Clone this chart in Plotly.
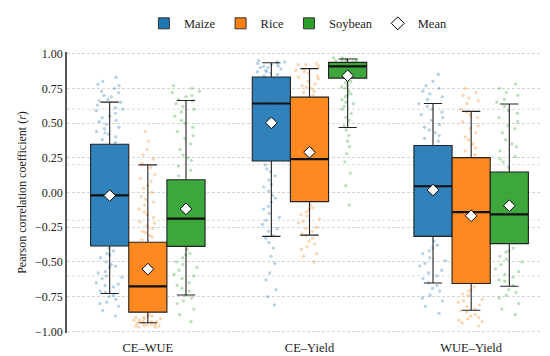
import plotly.graph_objects as go

# ---------------- data ----------------
groups = ["CE–WUE", "CE–Yield", "WUE–Yield"]
crops = ["Maize", "Rice", "Soybean"]
colors = ["#1f77b4", "#ff7f0e", "#2ca02c"]

# box statistics per crop, ordered as groups
maize_q1 = [-0.385, 0.227, -0.316]
maize_med = [-0.020, 0.641, 0.045]
maize_q3 = [0.348, 0.832, 0.338]
maize_lo = [-0.728, -0.316, -0.652]
maize_hi = [0.651, 0.935, 0.641]
maize_mean = [-0.022, 0.502, 0.018]

rice_q1 = [-0.862, -0.066, -0.655]
rice_med = [-0.676, 0.240, -0.141]
rice_q3 = [-0.358, 0.687, 0.251]
rice_lo = [-0.938, -0.307, -0.848]
rice_hi = [0.199, 0.892, 0.584]
rice_mean = [-0.552, 0.290, -0.168]

soy_q1 = [-0.388, 0.824, -0.368]
soy_med = [-0.188, 0.908, -0.158]
soy_q3 = [0.092, 0.937, 0.148]
soy_lo = [-0.738, 0.468, -0.675]
soy_hi = [0.663, 0.962, 0.637]
soy_mean = [-0.118, 0.841, -0.095]

# jittered site-level correlations
maize_pts = [
    [0.83, 0.80, 0.77, 0.75, 0.73, 0.70, 0.69, 0.67, 0.65, 0.63, 0.61, 0.59, 0.57, 0.55, 0.54, 0.51,
     0.49, 0.47, 0.46, 0.43, 0.42, 0.40, 0.38, 0.36, 0.30, 0.22, 0.15, 0.08, 0.02, -0.05, -0.12,
     -0.20, -0.27, -0.33, -0.40, -0.42, -0.45, -0.47, -0.50, -0.52, -0.54, -0.57, -0.58, -0.61,
     -0.62, -0.65, -0.66, -0.68, -0.71, -0.72, -0.75, -0.77, -0.80, -0.82, -0.85, -0.89,
     0.78, 0.72, 0.66, 0.60, 0.52, 0.44, -0.44, -0.53, -0.60, -0.67, -0.74, -0.79],
    [0.95, 0.94, 0.94, 0.93, 0.92, 0.91, 0.91, 0.90, 0.89, 0.88, 0.87, 0.86, 0.85, 0.84, 0.80, 0.75,
     0.70, 0.65, 0.58, 0.50, 0.42, 0.33, 0.27, 0.20, 0.17, 0.12, 0.09, 0.04, 0.01, -0.04, -0.07,
     -0.12, -0.15, -0.20, -0.23, -0.28, -0.31, -0.36, -0.40, -0.46, -0.51, -0.58, -0.63, -0.70,
     -0.75, -0.81, 0.93, 0.90, 0.87, 0.15, 0.06, -0.02, -0.10, -0.18, -0.26, -0.33],
    [0.85, 0.80, 0.77, 0.73, 0.71, 0.67, 0.64, 0.62, 0.58, 0.56, 0.52, 0.49, 0.47, 0.43, 0.41, 0.37,
     0.28, 0.20, 0.12, 0.05, -0.03, -0.11, -0.19, -0.26, -0.35, -0.38, -0.42, -0.44, -0.47, -0.51,
     -0.53, -0.56, -0.60, -0.62, -0.65, -0.69, -0.71, -0.74, -0.78, -0.82, -0.87,
     0.75, 0.69, 0.60, 0.54, 0.45, 0.39, -0.40, -0.49, -0.58, -0.67, -0.76],
]
rice_pts = [
    [0.44, 0.37, 0.31, 0.27, 0.21, 0.18, 0.13, 0.10, 0.05, 0.03, 0.00, -0.03, -0.07, -0.09, -0.12,
     -0.16, -0.18, -0.21, -0.24, -0.26, -0.28, -0.31, -0.32, -0.34, -0.40, -0.46, -0.52, -0.58,
     -0.63, -0.70, -0.75, -0.80, -0.84, -0.88, -0.89, -0.90, -0.90, -0.91, -0.92, -0.92, -0.93,
     -0.93, -0.94, -0.94, -0.95, -0.95, -0.96, -0.96, -0.97, -0.97,
     0.24, 0.08, -0.05, -0.14, -0.22, -0.29, -0.89, -0.91, -0.93, -0.95, -0.96],
    [0.93, 0.92, 0.91, 0.89, 0.88, 0.86, 0.84, 0.83, 0.80, 0.78, 0.76, 0.75, 0.72, 0.70, 0.62, 0.52,
     0.42, 0.33, 0.24, 0.15, 0.06, -0.03, -0.09, -0.12, -0.14, -0.17, -0.19, -0.22, -0.25, -0.26,
     -0.30, -0.31, -0.35, -0.37, -0.41, -0.44, -0.46, -0.50,
     0.92, 0.87, 0.82, 0.77, 0.73, -0.11, -0.16, -0.21, -0.28, -0.33, -0.39],
    [0.75, 0.72, 0.70, 0.66, 0.64, 0.60, 0.58, 0.54, 0.51, 0.46, 0.43, 0.38, 0.35, 0.30, 0.27, 0.18,
     0.08, -0.02, -0.12, -0.22, -0.33, -0.44, -0.55, -0.63, -0.68, -0.70, -0.73, -0.74, -0.77,
     -0.78, -0.81, -0.82, -0.84, -0.86, -0.88, -0.90, -0.91, -0.93, -0.94, -0.96,
     0.68, 0.56, 0.48, 0.40, 0.32, -0.71, -0.79, -0.85, -0.89, -0.92],
]
soy_pts = [
    [0.77, 0.75, 0.72, 0.70, 0.69, 0.66, 0.64, 0.60, 0.58, 0.55, 0.50, 0.47, 0.44, 0.39, 0.35, 0.31,
     0.27, 0.23, 0.19, 0.16, 0.12, 0.05, -0.02, -0.08, -0.14, -0.22, -0.28, -0.34, -0.41, -0.44,
     -0.47, -0.50, -0.54, -0.56, -0.59, -0.62, -0.65, -0.69, -0.71, -0.74, -0.78, -0.80, -0.84,
     -0.88, -0.93, 0.73, 0.67, 0.62, 0.52, 0.41, 0.25, -0.45, -0.52, -0.60, -0.67, -0.76],
    [0.97, 0.97, 0.96, 0.96, 0.95, 0.95, 0.94, 0.93, 0.92, 0.91, 0.90, 0.88, 0.86, 0.84, 0.81, 0.79,
     0.77, 0.76, 0.73, 0.71, 0.69, 0.67, 0.65, 0.62, 0.60, 0.57, 0.54, 0.52, 0.48, 0.45, 0.41,
     0.37, 0.33, 0.28, 0.22, 0.14, 0.05, -0.09, 0.96, 0.95, 0.94, 0.80, 0.75, 0.70, 0.64],
    [0.78, 0.75, 0.70, 0.67, 0.62, 0.59, 0.54, 0.51, 0.46, 0.43, 0.38, 0.35, 0.30, 0.26, 0.22, 0.18,
     0.10, 0.02, -0.06, -0.14, -0.22, -0.30, -0.40, -0.43, -0.46, -0.50, -0.52, -0.55, -0.59,
     -0.61, -0.64, -0.67, -0.70, -0.74, -0.76, -0.80, -0.84, -0.88,
     0.72, 0.65, 0.57, 0.48, 0.33, 0.24, -0.42, -0.48, -0.57, -0.63, -0.72],
]

y_ticks = [-1.0, -0.75, -0.5, -0.25, 0.0, 0.25, 0.5, 0.75, 1.0]
ref_lines = [-0.6, -0.2, 0.2, 0.6]

# ---------------- figure ----------------
BOX_W = 0.236
offsets = [-BOX_W, 0.0, BOX_W]
series = [
    (maize_q1, maize_med, maize_q3, maize_lo, maize_hi, maize_mean, maize_pts),
    (rice_q1, rice_med, rice_q3, rice_lo, rice_hi, rice_mean, rice_pts),
    (soy_q1, soy_med, soy_q3, soy_lo, soy_hi, soy_mean, soy_pts),
]


def rgba(hex_c, a):
    h = hex_c.lstrip("#")
    return "rgba(%d,%d,%d,%s)" % (int(h[0:2], 16), int(h[2:4], 16), int(h[4:6], 16), a)


fig = go.Figure()

# jittered points (drawn first, underneath)
for ci, s in enumerate(series):
    pts = s[6]
    for gi in range(len(groups)):
        xpos = gi + offsets[ci]
        fig.add_trace(go.Box(
            x=[xpos] * len(pts[gi]), y=pts[gi], width=BOX_W,
            boxpoints="all", jitter=0.75, pointpos=0,
            line=dict(width=0), fillcolor="rgba(0,0,0,0)",
            marker=dict(color=colors[ci], size=3.3, opacity=0.33),
            showlegend=False, hoverinfo="skip",
        ))

# boxes
for ci, s in enumerate(series):
    q1, med, q3, lo, hi, mean, _ = s
    xs = [gi + offsets[ci] for gi in range(len(groups))]
    fig.add_trace(go.Box(
        x=xs, q1=q1, median=med, q3=q3, lowerfence=lo, upperfence=hi,
        width=BOX_W, whiskerwidth=0.48, boxpoints=False,
        fillcolor=rgba(colors[ci], 0.92),
        line=dict(color="#222222", width=1.1),
        showlegend=False, hoverinfo="skip",
    ))
    # thicker median lines
    for gi in range(len(groups)):
        fig.add_trace(go.Scatter(
            x=[xs[gi] - BOX_W / 2, xs[gi] + BOX_W / 2], y=[med[gi], med[gi]],
            mode="lines", line=dict(color="#111111", width=2.2),
            showlegend=False, hoverinfo="skip",
        ))
    # means
    fig.add_trace(go.Scatter(
        x=xs, y=mean, mode="markers",
        marker=dict(symbol="diamond", size=9, color="white",
                    line=dict(color="black", width=1)),
        showlegend=False, hoverinfo="skip",
    ))

# legend entries
for ci, name in enumerate(crops):
    fig.add_trace(go.Scatter(
        x=[None], y=[None], mode="markers", name=name,
        marker=dict(symbol="square", size=11, color=colors[ci],
                    line=dict(color="#333333", width=1)),
    ))
fig.add_trace(go.Scatter(
    x=[None], y=[None], mode="markers", name="Mean",
    marker=dict(symbol="diamond", size=10, color="white",
                line=dict(color="black", width=1)),
))

# reference lines
for v in ref_lines:
    fig.add_shape(type="line", xref="paper", x0=0, x1=1, yref="y", y0=v, y1=v,
                  line=dict(color="#d4d4d4", width=0.8, dash="3px,2px"), layer="below")
fig.add_shape(type="line", xref="paper", x0=0, x1=1, yref="y", y0=0, y1=0,
              line=dict(color="#111111", width=0.9, dash="3px,2px"), layer="below")

FONT = "Liberation Serif"
fig.update_layout(
    width=550, height=356,
    margin=dict(l=59, r=6, t=44, b=31, autoexpand=False),
    paper_bgcolor="white", plot_bgcolor="white",
    font=dict(family=FONT, size=12, color="#222222"),
    boxmode="overlay",
    showlegend=True,
    legend=dict(orientation="h", x=0.528, xanchor="center", xref="container",
                y=0.998, yanchor="top", yref="container",
                font=dict(family=FONT, size=12.5), itemwidth=30,
                bgcolor="rgba(0,0,0,0)"),
    xaxis=dict(range=[-0.5, 2.5], tickvals=list(range(len(groups))), ticktext=groups,
               showgrid=False, zeroline=False, showline=False,
               ticks="outside", ticklen=3, tickcolor="rgba(0,0,0,0)",
               tickfont=dict(family=FONT, size=12.5)),
    yaxis=dict(range=[-1.012, 1.012], tickvals=y_ticks, tickformat=".2f",
               showgrid=True, gridcolor="#d4d4d4", gridwidth=0.8, griddash="3px,2px",
               zeroline=False, showline=True, linecolor="#555555", linewidth=1.5,
               ticks="", tickfont=dict(family=FONT, size=12),
               title=dict(text="Pearson correlation coefficient (<i>r</i>)",
                          font=dict(family=FONT, size=12), standoff=6)),
)

fig.write_html("out.html")
